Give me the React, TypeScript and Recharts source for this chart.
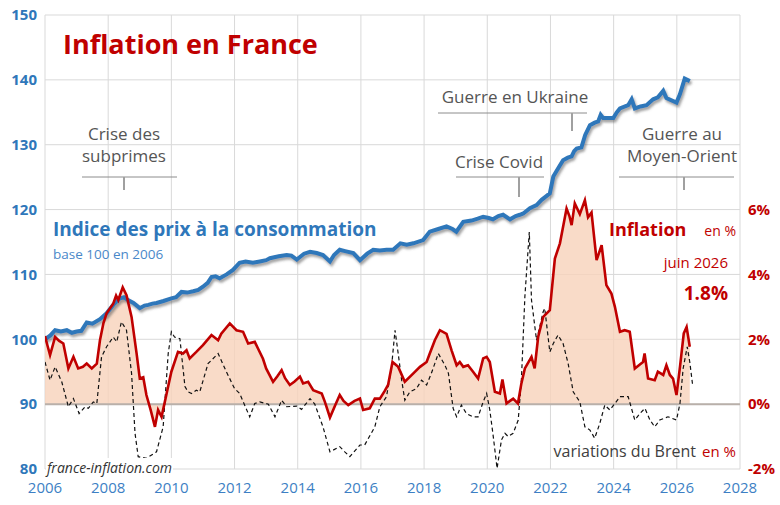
import { ComposedChart, Line, Area, XAxis, YAxis, CartesianGrid, ReferenceLine } from "recharts";

// indice des prix (base 100 en 2006)
const cpiPoints: [number, number][] = [
  [2006.0, 100.0], [2006.17, 100.6], [2006.32, 101.4], [2006.5, 101.2], [2006.69, 101.4], [2006.85, 101.0],
  [2007.0, 101.2], [2007.15, 101.3], [2007.32, 102.6], [2007.5, 102.4], [2007.74, 103.1], [2007.95, 104.0],
  [2008.16, 105.3], [2008.37, 106.3], [2008.5, 106.5], [2008.64, 106.0], [2008.8, 105.6], [2009.0, 104.8],
  [2009.15, 105.2], [2009.27, 105.3], [2009.4, 105.5], [2009.53, 105.6], [2009.75, 105.9], [2010.0, 106.3],
  [2010.15, 106.5], [2010.32, 107.3], [2010.5, 107.2], [2010.69, 107.4], [2010.85, 107.6], [2011.0, 108.1],
  [2011.15, 108.7], [2011.27, 109.6], [2011.4, 109.7], [2011.53, 109.4], [2011.75, 110.0], [2011.95, 110.7],
  [2012.16, 111.8], [2012.35, 112.0], [2012.58, 111.8], [2012.8, 112.0], [2013.0, 112.2], [2013.12, 112.5],
  [2013.4, 112.8], [2013.65, 113.0], [2013.8, 112.9], [2013.97, 112.3], [2014.2, 113.2], [2014.39, 113.5],
  [2014.6, 113.3], [2014.8, 113.0], [2015.02, 112.0], [2015.15, 113.0], [2015.33, 113.8], [2015.5, 113.6],
  [2015.76, 113.3], [2015.97, 112.2], [2016.2, 113.2], [2016.39, 113.8], [2016.6, 113.7], [2016.81, 113.8],
  [2017.02, 113.8], [2017.25, 114.8], [2017.45, 114.6], [2017.66, 114.8], [2017.97, 115.3], [2018.18, 116.6],
  [2018.45, 117.0], [2018.71, 117.4], [2018.9, 117.0], [2019.02, 116.6], [2019.24, 118.1], [2019.5, 118.3],
  [2019.7, 118.6], [2019.87, 118.9], [2020.05, 118.7], [2020.18, 118.5], [2020.35, 119.0], [2020.5, 119.2],
  [2020.72, 118.5], [2020.9, 119.0], [2021.03, 119.2], [2021.14, 119.4], [2021.35, 120.2], [2021.56, 120.7],
  [2021.72, 121.5], [2021.85, 122.0], [2021.98, 122.5], [2022.09, 125.1], [2022.25, 126.4], [2022.4, 127.6],
  [2022.55, 128.0], [2022.67, 128.2], [2022.75, 129.0], [2022.83, 129.4], [2022.98, 129.6], [2023.1, 131.5],
  [2023.25, 133.0], [2023.4, 133.4], [2023.51, 133.6], [2023.59, 134.6], [2023.67, 134.1], [2023.99, 134.1],
  [2024.1, 135.0], [2024.2, 135.6], [2024.46, 136.1], [2024.57, 137.0], [2024.67, 135.6], [2024.85, 135.9],
  [2025.04, 136.1], [2025.25, 137.0], [2025.4, 137.3], [2025.57, 138.3], [2025.67, 137.2], [2025.99, 136.5],
  [2026.1, 137.8], [2026.25, 140.2], [2026.41, 139.8],
];

// inflation sur un an, en %
const inflationPoints: [number, number][] = [
  [2006.0, 2.1], [2006.08, 1.8], [2006.16, 1.51], [2006.32, 2.07], [2006.45, 1.95], [2006.58, 1.87],
  [2006.74, 1.1], [2006.9, 1.46], [2007.05, 1.1], [2007.2, 1.15], [2007.32, 1.25], [2007.48, 1.1],
  [2007.64, 1.25], [2007.74, 1.97], [2007.85, 2.5], [2007.95, 2.8], [2008.16, 3.1], [2008.25, 3.35],
  [2008.32, 3.21], [2008.46, 3.6], [2008.58, 3.36], [2008.74, 2.69], [2008.9, 1.56], [2009.0, 0.79],
  [2009.11, 0.83], [2009.21, 0.28], [2009.35, -0.2], [2009.48, -0.7], [2009.58, -0.18], [2009.69, -0.39],
  [2009.85, 0.33], [2010.0, 1.0], [2010.21, 1.61], [2010.37, 1.56], [2010.48, 1.66], [2010.58, 1.41],
  [2010.79, 1.61], [2011.0, 1.82], [2011.27, 2.13], [2011.48, 1.97], [2011.58, 2.17], [2011.85, 2.49],
  [2012.06, 2.28], [2012.27, 2.23], [2012.43, 1.87], [2012.64, 1.92], [2012.75, 1.7], [2012.9, 1.4],
  [2013.0, 1.1], [2013.22, 0.69], [2013.35, 0.85], [2013.49, 1.05], [2013.6, 0.8], [2013.75, 0.59],
  [2013.9, 0.7], [2014.07, 0.85], [2014.17, 0.64], [2014.33, 0.69], [2014.49, 0.43], [2014.76, 0.33],
  [2014.86, 0.07], [2015.02, -0.41], [2015.2, 0.0], [2015.33, 0.28], [2015.45, 0.1], [2015.6, -0.03],
  [2015.8, 0.1], [2015.97, 0.17], [2016.07, -0.18], [2016.28, -0.13], [2016.44, 0.17], [2016.6, 0.17],
  [2016.75, 0.4], [2016.86, 0.59], [2017.0, 1.3], [2017.18, 1.15], [2017.39, 0.69], [2017.66, 0.95],
  [2017.87, 1.15], [2018.08, 1.3], [2018.18, 1.56], [2018.34, 1.97], [2018.5, 2.28], [2018.71, 2.17],
  [2018.87, 1.66], [2019.03, 1.2], [2019.13, 1.3], [2019.24, 1.15], [2019.39, 1.2], [2019.55, 1.0],
  [2019.71, 0.79], [2019.87, 1.41], [2019.98, 1.46], [2020.08, 1.3], [2020.24, 0.38], [2020.4, 0.33],
  [2020.48, 0.76], [2020.61, 0.02], [2020.72, 0.1], [2020.82, 0.17], [2020.97, 0.02], [2021.08, 0.64],
  [2021.19, 1.1], [2021.4, 1.46], [2021.5, 1.1], [2021.61, 2.07], [2021.77, 2.69], [2021.88, 2.8],
  [2021.98, 2.9], [2022.14, 4.49], [2022.3, 4.96], [2022.51, 6.03], [2022.6, 5.8], [2022.67, 5.52],
  [2022.77, 6.19], [2022.93, 5.86], [2023.09, 6.29], [2023.19, 5.76], [2023.3, 5.91], [2023.46, 4.44],
  [2023.62, 4.9], [2023.77, 3.67], [2023.93, 3.41], [2024.04, 3.0], [2024.2, 2.23], [2024.35, 2.28],
  [2024.51, 2.23], [2024.67, 1.1], [2024.8, 1.2], [2024.93, 1.3], [2024.98, 1.56], [2025.09, 0.79],
  [2025.3, 0.74], [2025.4, 1.0], [2025.57, 0.9], [2025.67, 1.2], [2025.78, 0.9], [2025.88, 0.79],
  [2025.99, 0.28], [2026.1, 1.15], [2026.22, 2.18], [2026.31, 2.38], [2026.41, 1.77],
];

// variations du Brent (ramenées à l'échelle de droite)
const brentPoints: [number, number][] = [
  [2006.0, 1.3], [2006.16, 0.74], [2006.32, 1.15], [2006.53, 0.69], [2006.74, -0.08], [2006.9, 0.17],
  [2007.08, -0.29], [2007.27, -0.08], [2007.37, -0.13], [2007.53, 0.07], [2007.64, 0.02], [2007.79, 1.46],
  [2007.95, 1.77], [2008.16, 2.07], [2008.27, 1.92], [2008.42, 2.54], [2008.58, 2.28], [2008.74, 0.95],
  [2008.85, -0.9], [2008.95, -1.62], [2009.21, -1.67], [2009.53, -1.47], [2009.74, -0.7], [2009.9, 1.56],
  [2010.0, 2.23], [2010.1, 2.07], [2010.27, 2.02], [2010.43, 0.54], [2010.53, 0.38], [2010.64, 0.33],
  [2010.79, 0.43], [2010.9, 0.38], [2011.16, 1.25], [2011.48, 1.56], [2011.74, 1.0], [2012.0, 0.48],
  [2012.16, 0.33], [2012.48, -0.39], [2012.64, 0.02], [2012.8, 0.07], [2013.07, 0.0], [2013.28, -0.39],
  [2013.49, 0.12], [2013.65, -0.08], [2013.97, -0.06], [2014.12, -0.16], [2014.39, 0.17], [2014.54, 0.0],
  [2014.8, -0.7], [2015.02, -1.47], [2015.33, -1.31], [2015.49, -1.47], [2015.65, -1.62], [2015.97, -1.26],
  [2016.12, -1.26], [2016.44, -0.7], [2016.6, -0.08], [2016.81, 0.23], [2016.97, 1.15], [2017.08, 2.28],
  [2017.18, 1.56], [2017.29, 0.74], [2017.39, 0.12], [2017.55, 0.38], [2017.76, 0.48], [2017.92, 0.74],
  [2018.08, 0.59], [2018.23, 0.95], [2018.45, 1.56], [2018.66, 1.2], [2018.77, 0.95], [2018.92, -0.13],
  [2019.03, -0.39], [2019.18, -0.03], [2019.34, -0.29], [2019.55, -0.39], [2019.71, -0.39], [2019.87, 0.07],
  [2019.98, 0.33], [2020.08, -0.18], [2020.19, -1.0], [2020.31, -1.98], [2020.45, -1.1], [2020.56, -0.9],
  [2020.66, -1.0], [2020.82, -0.9], [2020.98, -0.49], [2021.08, 0.74], [2021.19, 3.31], [2021.33, 5.31],
  [2021.4, 3.21], [2021.56, 1.97], [2021.77, 2.85], [2021.82, 2.95], [2021.98, 1.61], [2022.09, 1.87],
  [2022.24, 2.13], [2022.4, 1.87], [2022.56, 1.25], [2022.72, 0.38], [2022.93, 0.07], [2023.09, -0.7],
  [2023.25, -0.8], [2023.4, -1.05], [2023.56, -0.6], [2023.72, -0.03], [2023.88, -0.18], [2024.04, 0.02],
  [2024.2, 0.23], [2024.46, 0.23], [2024.67, -0.49], [2024.83, -0.29], [2024.99, -0.13], [2025.15, -0.49],
  [2025.3, -0.7], [2025.46, -0.49], [2025.72, -0.39], [2025.99, -0.49], [2026.1, 0.02], [2026.2, 1.1],
  [2026.33, 1.77], [2026.41, 1.3], [2026.5, 0.59],
];

const yearTicks = [2006, 2008, 2010, 2012, 2014, 2016, 2018, 2020, 2022, 2024, 2026, 2028];
const indexTicks = [80, 90, 100, 110, 120, 130, 140, 150];
const percentTicks = [-2, 0, 2, 4, 6];

const cpiData = cpiPoints.map(([t, v]) => ({ t, v }));
const inflationData = inflationPoints.map(([t, p]) => ({ t, p }));
const brentData = brentPoints.map(([t, b]) => ({ t, b }));

const BLUE = "#2f77ba";
const RED = "#c00000";
const FONT = '"Open Sans", sans-serif';

const annotations = [
  { lines: ["Crise des", "subprimes"], cx: 124, y: 140, x1: 82, x2: 177, lineY: 177, tickX: 124, tickY2: 190 },
  { lines: ["Guerre en Ukraine"], cx: 515, y: 103, x1: 438, x2: 587, lineY: 113, tickX: 572, tickY2: 131 },
  { lines: ["Crise Covid"], cx: 499, y: 168, x1: 456, x2: 544, lineY: 177, tickX: 519, tickY2: 197 },
  { lines: ["Guerre au", "Moyen-Orient"], cx: 682, y: 140, x1: 619, x2: 734, lineY: 177, tickX: 684, tickY2: 190 },
];

export default function App() {
  return (
    <div style={{ position: "absolute", left: 0, top: 0, width: 780, height: 505, fontFamily: FONT, background: "#fff" }}>
      <ComposedChart width={780} height={505} margin={{ top: 15, right: 0, bottom: 0, left: 0 }}>
        <defs>
          <filter id="blueShadow" x="-5%" y="-5%" width="110%" height="120%">
            <feDropShadow dx="1.5" dy="2.5" stdDeviation="1.2" floodColor="#555" floodOpacity="0.55" />
          </filter>
        </defs>
        <CartesianGrid stroke="#d9d9d9" horizontalValues={indexTicks} verticalValues={yearTicks} yAxisId="left" />
        <XAxis
          dataKey="t"
          type="number"
          domain={[2006, 2028]}
          ticks={yearTicks}
          height={36}
          axisLine={false}
          tickLine={false}
          tickMargin={7}
          tick={{ fill: "#3d7fc4", fontSize: 15, fontFamily: FONT }}
          allowDataOverflow
        />
        <YAxis
          yAxisId="left"
          orientation="left"
          width={45}
          domain={[80, 150]}
          ticks={indexTicks}
          axisLine={false}
          tickLine={false}
          tick={{ fill: BLUE, fontSize: 15, fontWeight: 700, fontFamily: FONT }}
          allowDataOverflow
        />
        <YAxis
          yAxisId="right"
          orientation="right"
          width={40}
          domain={[-2, 12]}
          ticks={percentTicks}
          axisLine={false}
          tickLine={false}
          tickFormatter={(v: number) => `${v}%`}
          tick={{ fill: RED, fontSize: 15, fontWeight: 700, fontFamily: FONT }}
          allowDataOverflow
        />
        <Line
          yAxisId="left"
          data={cpiData}
          dataKey="v"
          type="linear"
          stroke={BLUE}
          strokeWidth={4}
          dot={false}
          filter="url(#blueShadow)"
          isAnimationActive={false}
        />
        <Area
          yAxisId="right"
          data={inflationData}
          dataKey="p"
          type="linear"
          baseValue={0}
          stroke="none"
          fill="#f8d2ba"
          fillOpacity={0.8}
          isAnimationActive={false}
        />
        <ReferenceLine yAxisId="left" y={90} stroke="#b9b0aa" strokeWidth={2} />
        <Line
          yAxisId="right"
          data={brentData}
          dataKey="b"
          type="linear"
          stroke="#111"
          strokeWidth={1.2}
          strokeDasharray="4 3"
          dot={false}
          isAnimationActive={false}
        />
        <Line
          yAxisId="right"
          data={inflationData}
          dataKey="p"
          type="linear"
          stroke={RED}
          strokeWidth={2.6}
          dot={false}
          isAnimationActive={false}
        />
      </ComposedChart>

      <svg width={780} height={505} style={{ position: "absolute", left: 0, top: 0, pointerEvents: "none" }} fontFamily={FONT}>
        <text x={63} y={54} fill={RED} fontSize={27} fontWeight={700}>Inflation en France</text>

        <text x={53} y={236} fill={BLUE} fontSize={19} fontWeight={700}>Indice des prix à la consommation</text>
        <text x={53} y={259} fill="#4a88c9" fontSize={13.5}>base 100 en 2006</text>

        <text x={609} y={236} fill={RED} fontSize={18} fontWeight={700}>Inflation</text>
        <text x={736} y={236} fill={RED} fontSize={14} textAnchor="end">en %</text>
        <text x={728} y={268} fill={RED} fontSize={15} textAnchor="end">juin 2026</text>
        <text x={728} y={300} fill={RED} fontSize={19} fontWeight={700} textAnchor="end">1.8%</text>

        <text x={696} y={457} fill="#404040" fontSize={16} textAnchor="end">variations du Brent</text>
        <text x={736} y={457} fill={RED} fontSize={15} textAnchor="end">en %</text>

        <rect x={46} y={458} width={127} height={14} fill="#fff" />
        <text x={47} y={473} fill="#333" fontSize={14} fontStyle="italic">france-inflation.com</text>

        {annotations.map((a, i) => (
          <g key={i}>
            {a.lines.map((l, j) => (
              <text key={j} x={a.cx} y={a.y + j * 22} fill="#555" fontSize={17} textAnchor="middle">{l}</text>
            ))}
            <line x1={a.x1} x2={a.x2} y1={a.lineY} y2={a.lineY} stroke="#8c8c8c" strokeWidth={1} />
            <line x1={a.tickX} x2={a.tickX} y1={a.lineY} y2={a.tickY2} stroke="#a0a0a0" strokeWidth={2} />
          </g>
        ))}
      </svg>
    </div>
  );
}
